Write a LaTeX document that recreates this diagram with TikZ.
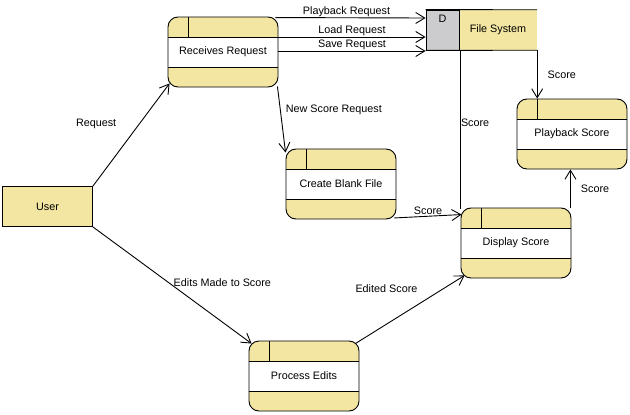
\documentclass[tikz,border=0pt]{standalone}
\usepackage{fontspec}
\setmainfont{Liberation Sans}
\usetikzlibrary{arrows.meta}
\definecolor{vpy}{RGB}{243,230,162}
\definecolor{vpg}{RGB}{204,204,206}
\newcommand{\vpfont}{\fontsize{10.8pt}{12pt}\selectfont}
\tikzset{
  proc/.style={rectangle, rounded corners=10pt, draw=black, line width=0.9pt,
    fill=vpy, minimum width=110pt, minimum height=70pt, inner sep=0pt, font=\vpfont,
    path picture={
      \fill[white, sharp corners] ([yshift=-20pt]path picture bounding box.north west)
        rectangle ([yshift=20pt]path picture bounding box.south east);
      \draw[sharp corners, line width=0.9pt]
        ([yshift=-20pt]path picture bounding box.north west) -- ([yshift=-20pt]path picture bounding box.north east)
        ([yshift=20pt]path picture bounding box.south west) -- ([yshift=20pt]path picture bounding box.south east)
        ([xshift=20pt]path picture bounding box.north west) -- ([xshift=20pt,yshift=-20pt]path picture bounding box.north west);
    }},
  ent/.style={rectangle, draw=black, line width=0.9pt, fill=vpy, minimum width=90pt,
    minimum height=40pt, inner sep=0pt, font=\vpfont},
  flow/.style={line width=0.9pt, -{Straight Barb[length=9pt,width=11pt]}},
  plain/.style={line width=0.9pt},
  lbl/.style={inner sep=1pt, font=\vpfont},
}
\begin{document}
\begin{tikzpicture}[x=1pt, y=-1pt]
\useasboundingbox (0,0) rectangle (630,415);
\fill[white] (0,0) rectangle (630,415);

% processes
\node[proc] (rr)  at (223,52)  {Receives Request};
\node[proc] (cbf) at (341,184) {Create Blank File};
\node[proc] (ds)  at (516,243) {Display Score};
\node[proc] (ps)  at (572,134) {Playback Score};
\node[proc] (pe)  at (304,376) {Process Edits};

% external entity
\node[ent] (user) at (47.5,206.5) {User};

% data store
\node[rectangle, fill=vpg, draw=black, line width=0.9pt, minimum width=33pt, minimum height=40pt, inner sep=0pt] (dbox) at (442.5,30) {};
\node[lbl, anchor=north] (did) at ([yshift=-4.5pt]dbox.north) {D};
\node[rectangle, fill=vpy, minimum width=78pt, minimum height=40pt, inner sep=0pt, font=\vpfont] (fs) at (498,30) {File System};
\draw[plain] (dbox.north west) -- (fs.north east);
\draw[plain] (dbox.south west) -- (fs.south east);
\draw[plain] (dbox.north east) -- (dbox.south east);

% flows
\draw[flow] (user.north east) -- ([xshift=2pt,yshift=4pt]rr.south west)
  node[lbl, pos=0.61, left=22pt] {Request};
\draw[flow] (user.south east) -- ([xshift=3pt,yshift=-3pt]pe.north west)
  node[lbl, pos=0.475, right=4pt] {Edits Made to Score};

\draw[flow] ([xshift=-3pt,yshift=-1pt]rr.north east) -- ([yshift=12pt]dbox.west)
  node[lbl, midway, above=0pt, xshift=-4pt] {Playback Request};
\draw[flow] ([yshift=15pt]rr.east) -- ([yshift=-7pt]dbox.west)
  node[lbl, midway, above=0pt] {Load Request};
\draw[flow] ([yshift=1pt]rr.east) -- ([yshift=-21pt]dbox.west)
  node[lbl, midway, above=0pt] {Save Request};

\draw[flow] ([xshift=-1pt,yshift=1pt]rr.south east) -- ([yshift=-4pt]cbf.north west)
  node[lbl, pos=0.36, right=4pt] {New Score Request};

\draw[flow] (fs.south east) -- (fs.south east |- ps.north)
  node[lbl, midway, right=9pt] {Score};

\coordinate (dsc) at ([xshift=0pt,yshift=-1pt]ds.north west);
\draw[plain] (dsc |- dbox.south east) -- (dsc)
  node[lbl, pos=0.456, right=-1pt] {Score};

\draw[flow] ([xshift=-2pt,yshift=1.5pt]cbf.south east) -- ([xshift=1pt,yshift=-7pt]ds.north west)
  node[lbl, midway, above=0pt] {Score};

\coordinate (dsn) at ([xshift=-1pt]ds.north east);
\draw[flow] (dsn) -- (dsn |- ps.south)
  node[lbl, midway, right=9pt] {Score};

\draw[flow] ([xshift=-4pt,yshift=-3pt]pe.north east) -- ([xshift=4pt,yshift=3pt]ds.south west)
  node[lbl, pos=0.81, left=25pt] {Edited Score};
\end{tikzpicture}
\end{document}
